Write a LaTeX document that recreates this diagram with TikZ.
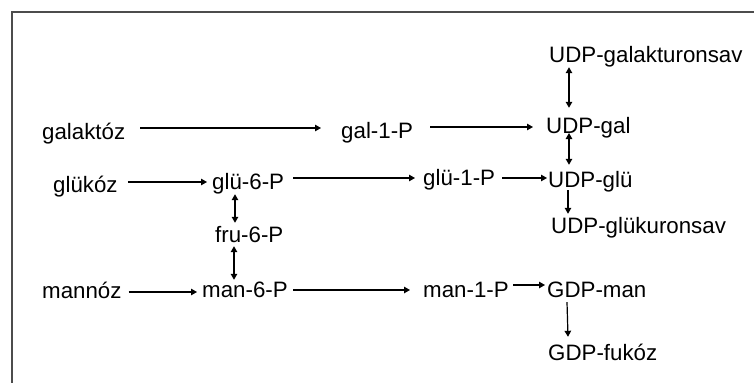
\documentclass[tikz,border=0pt]{standalone}
\usepackage{fontspec}
\setmainfont{Liberation Sans}
\usetikzlibrary{arrows.meta,calc}
\begin{document}
\begin{tikzpicture}[x=1pt,y=-1pt,
  lbl/.style={anchor=base west,inner sep=0pt,text height=16pt,text depth=5pt,
              font=\fontsize{22.3}{26}\selectfont},
  arr/.style={line width=1.2pt,-{Triangle[length=6pt,width=6.5pt]}},
  biarr/.style={line width=1.2pt,{Triangle[length=6pt,width=6.5pt]}-{Triangle[length=6pt,width=6.5pt]}},
  frameline/.style={draw=black!70,line width=2pt}]
\useasboundingbox (0,0) rectangle (754,383);
% open frame along the top and left
\draw[frameline] (754,12) -- (11.5,12) -- (11.5,383);

% metabolites
\node[lbl] (galaktoz) at (42,139)  {galaktóz};
\node[lbl] (gal1)     at (341,138) {gal-1-P};
\node[lbl] (udpgal)   at (546,133) {UDP-gal};
\node[lbl] (udpgalak) at (549,62)  {UDP-galakturonsav};
\node[lbl] (glukoz)   at (53,192)  {glükóz};
\node[lbl] (glu6)     at (212,189) {glü-6-P};
\node[lbl] (glu1)     at (423,185) {glü-1-P};
\node[lbl] (udpglu)   at (548,187) {UDP-glü};
\node[lbl] (udpgluk)  at (551,233) {UDP-glükuronsav};
\node[lbl] (fru6)     at (215,242) {fru-6-P};
\node[lbl] (mannoz)   at (42,298)  {mannóz};
\node[lbl] (man6)     at (202,297) {man-6-P};
\node[lbl] (man1)     at (423,297) {man-1-P};
\node[lbl] (gdpman)   at (547,297) {GDP-man};
\node[lbl] (gdpfuk)   at (548,360) {GDP-fukóz};

% horizontal reactions
\draw[arr,shorten <=15pt,shorten >=20pt] ($(galaktoz.east)+(0,-5.5)$) -- ($(galaktoz.east -| gal1.west)+(0,-5.5)$);
\draw[arr,shorten <=17pt,shorten >=13pt] ($(gal1.east)+(0,-5.5)$) -- ($(gal1.east -| udpgal.west)+(0,-5.5)$);
\draw[arr,shorten <=10pt,shorten >=5pt] ($(glukoz.east)+(0,-4.5)$) -- ($(glukoz.east -| glu6.west)+(0,-4.5)$);
\draw[arr,shorten <=9pt,shorten >=8pt] ($(glu6.east)+(0,-5.5)$) -- ($(glu6.east -| glu1.west)+(0,-5.5)$);
\draw[arr,shorten <=7pt,shorten >=1pt] ($(glu1.east)+(0,-1.5)$) -- ($(glu1.east -| udpglu.west)+(0,-1.5)$);
\draw[arr,shorten <=7pt,shorten >=5pt] ($(mannoz.east)+(0,-0.5)$) -- ($(mannoz.east -| man6.west)+(0,-0.5)$);
\draw[arr,shorten <=5.5pt,shorten >=13pt] ($(man6.east)+(0,-1.5)$) -- ($(man6.east -| man1.west)+(0,-1.5)$);
\draw[arr,shorten <=4.5pt,shorten >=2pt] ($(man1.east)+(0,-6.5)$) -- ($(man1.east -| gdpman.west)+(0,-6.5)$);

% vertical reactions
\draw[biarr] ($(udpgalak.south west)+(20,0)$) -- ($(udpgalak.south west |- udpgal.north)+(20,-9)$);
\draw[biarr] ($(udpgal.base west)+(23,0)$) -- ($(udpgal.base west |- udpglu.north)+(23,-6)$);
\draw[arr] ($(udpglu.base west)+(20,3)$) -- ($(udpglu.base west |- udpgluk.north)+(20,-3)$);
\draw[biarr] ($(glu6.south west)+(23,0)$) -- ($(glu6.south west |- fru6.north)+(23,-3)$);
\draw[biarr] ($(fru6.south west)+(19,-1)$) -- ($(fru6.south west |- man6.north)+(19,-1)$);
\draw[arr] ($(gdpman.south west)+(20,0)$) -- ($(gdpfuk.north west)+(20,-7)$);
\end{tikzpicture}
\end{document}
